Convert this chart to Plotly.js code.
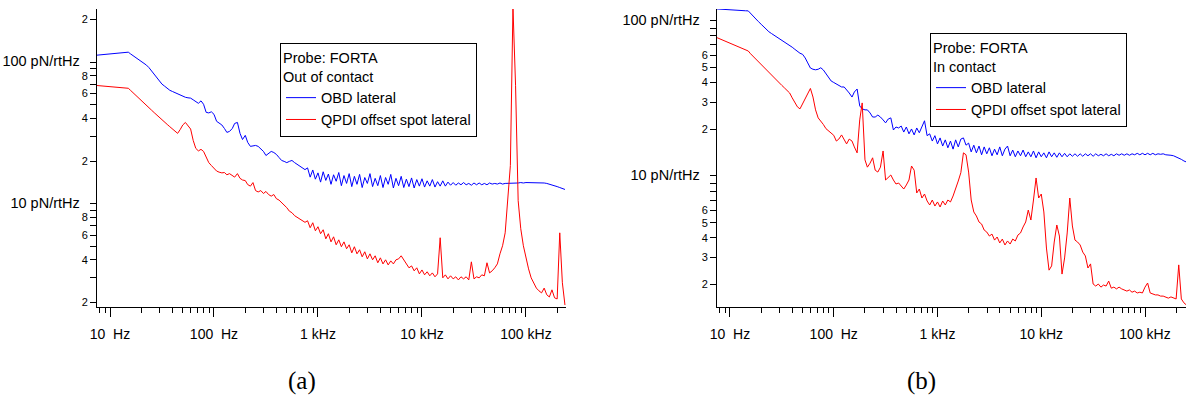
<!DOCTYPE html>
<html>
<head>
<meta charset="utf-8">
<script src="https://cdn.plot.ly/plotly-3.0.1.min.js"></script>
<style>html,body{margin:0;padding:0;background:#fff;}</style>
</head>
<body>
<div id="chart" style="width:1186px;height:402px;"></div>
<script>
// Frequency grid (Hz), shared by all curves
const freqHz = [7.5, 7.94, 8.41, 8.91, 9.44,
10, 10.6, 11.2, 11.9, 12.6, 13.3, 14.1, 15, 15.8, 16.8, 17.8, 18.8, 20, 21.1, 22.4, 23.7, 25.1, 26.6, 28.2, 29.9, 31.6, 33.5, 35.5, 37.6, 39.8, 42.2, 44.7, 47.3, 50.1, 53.1, 56.2, 59.6, 63.1, 66.8, 70.8, 75, 79.4, 84.1, 89.1, 94.4,
100, 106, 112, 119, 126, 133, 141, 150, 158, 168, 178, 188, 200, 211, 224, 237, 251, 266, 282, 299, 316, 335, 355, 376, 398, 422, 447, 473, 501, 531, 562, 596, 631, 668, 708, 750, 794, 841, 891, 944,
1000, 1059, 1122, 1189, 1259, 1334, 1413, 1496, 1585, 1679, 1778, 1884, 1995, 2113, 2239, 2371, 2512, 2661, 2818, 2985, 3162, 3350, 3548, 3758, 3981, 4217, 4467, 4732, 5012, 5309, 5623, 5957, 6310, 6683, 7079, 7499, 7943, 8414, 8913, 9441,
10000, 10593, 11220, 11885, 12589, 13335, 14125, 14962, 15849, 16788, 17783, 18836, 19953, 21135, 22387, 23714, 25119, 26607, 28184, 29854, 31623, 33497, 35481, 37584, 39811, 42170, 44668, 47315, 50119, 53088, 56234, 59566, 63096, 66834, 70795, 74989, 79433, 84140, 89125, 94406,
100000, 105925, 112202, 118850, 125893, 133352, 141254, 149624, 158489, 167880, 177828, 188365, 199526, 211349, 223872, 237137, 251189];

// (a) Out of contact, pN/rtHz
const obdOut = [112.1, 112.5, 113.0, 113.4, 113.9, 114.4, 114.8, 115.3, 115.8, 116.3, 116.8, 117.2, 117.7,
114.3, 110.8, 107.6, 104.3, 101.3, 98.4, 95.4, 91.5, 86.5, 81.7, 77.1, 72.9,
70.0, 67.7, 65.4, 63.3, 62.1, 60.9, 59.7, 58.5, 57.4, 56.5, 56.0, 55.7, 54.2, 52.5, 51.2, 53.3, 50.4, 44.2, 43.8, 44.6,
42.8, 38.2, 36.9, 36.0, 34.0, 31.9, 32.4, 34.0, 36.9, 37.5, 31.4, 28.4, 30.4, 27.1, 25.4, 25.6, 25.8, 25.4, 24.2, 23.4,
21.9, 22.6, 23.4, 23.0, 22.3, 21.2, 20.2, 19.9, 19.5, 19.9, 20.2, 19.5, 19.0, 18.6, 18.0, 17.4,
17.9, 15.4, 17.3, 14.9, 16.5, 14.2, 16.8, 14.6, 16.2, 13.7, 16.0, 14.4, 16.6, 13.4, 15.8, 13.9, 16.3, 13.2, 15.6, 13.7,
16.1, 13.0, 15.3, 13.9, 16.3, 13.2, 15.1, 13.4, 15.8, 13.0, 15.3, 13.7, 16.1, 12.9, 15.1, 13.4, 15.6, 13.0, 14.9, 13.2,
15.2, 12.9, 14.8, 13.3, 15.0, 13.1, 14.5, 13.3, 14.8, 13.1, 14.3, 13.3, 14.5, 13.3, 14.2, 13.5, 14.1, 13.5, 14.0, 13.6,
14.1, 13.6, 13.9, 13.5, 14.0, 13.6, 14.0, 13.6, 13.9, 13.6, 14.0, 13.75, 13.9, 13.75, 14.0, 13.75, 13.9, 13.9, 14.0, 13.9,
14.0, 14.0, 14.1, 14.0, 14.1, 14.1, 14.1, 14.1, 14.0, 14.1, 14.1, 14.0, 13.9, 13.75, 13.6, 13.4, 13.2, 13.0, 12.8, 12.6];

const qpdiOut = [68.4, 68.2, 67.9, 67.7, 67.4, 67.1, 66.9, 66.6, 66.4, 66.1, 65.9, 65.6, 65.4,
63.1, 60.6, 58.2, 56.0, 53.8, 51.6, 49.6, 47.6, 45.8, 44.0, 42.2, 40.6,
39.1, 37.7, 36.3, 35.0, 33.8, 32.5, 31.4, 33.4, 36.0, 37.5, 35.4, 33.7, 28.0, 24.6, 23.6, 24.2, 23.4, 21.2, 19.5, 18.6,
17.7, 17.0, 16.7, 16.5, 16.6, 16.0, 16.3, 15.8, 15.4, 16.3, 15.1, 14.7, 14.56, 13.64, 13.3, 14.09, 12.37, 12.1, 12.37, 11.8,
12.2, 11.6, 11.3, 11.6, 10.85, 10.6, 10.2, 9.84, 9.37, 8.85, 8.63, 8.22, 8.0, 7.82, 7.57, 7.38,
7.57, 6.76, 7.33, 6.43, 6.87, 6.13, 6.54, 5.64, 6.13, 5.37, 5.83, 5.12, 5.55, 4.96, 5.37, 4.80, 5.12, 4.49, 4.96, 4.42,
4.72, 4.21, 4.57, 4.07, 4.42, 4.01, 4.28, 3.82, 4.14, 3.75, 4.01, 3.69, 3.94, 3.75, 4.01, 4.07, 4.28, 4.01, 3.82, 3.52,
3.63, 3.35, 3.52, 3.19, 3.40, 3.14, 3.30, 3.09, 3.24, 3.04, 3.19, 5.74, 2.99, 3.14, 2.94, 3.09, 2.94, 3.04, 2.89, 3.04,
2.94, 3.04, 2.89, 3.88, 2.94, 3.04, 2.99, 3.14, 3.09, 3.82, 3.24, 3.35, 3.52, 3.75, 4.42, 5.04, 6.22, 10.5, 18.6, 245,
68.7, 10.5, 6.65, 5.04, 4.14, 3.46, 2.99, 2.71, 2.53, 2.42, 2.34, 2.53, 2.27, 2.19, 2.46, 2.16, 2.12, 6.22, 2.76, 1.92];

// (b) In contact, pN/rtHz
const obdIn = [119.5, 119.1, 119.0, 118.6, 118.2, 118.1, 117.8, 117.4, 117.2, 116.9, 116.5, 116.3, 116.1,
111.6, 107.2, 103.0, 99.0, 95.1, 91.5, 87.9, 85.2, 83.0, 81.0, 78.9, 77.0,
75.1, 73.2, 71.4, 69.7, 67.7, 65.6, 63.6, 61.9, 60.9, 57.7, 53.6, 49.7, 48.8, 48.4, 48.8, 49.9, 48.3, 45.5, 42.9, 41.0,
40.1, 39.2, 38.1, 37.5, 37.5, 36.1, 34.3, 32.3, 34.8, 36.4, 28.3, 27.1, 26.7, 26.7, 25.5, 24.0, 24.0, 24.7, 24.0, 23.0,
22.0, 23.3, 23.7, 19.8, 20.7, 20.4, 21.0, 19.2, 20.7, 18.7, 20.1, 18.4, 20.4, 19.0, 20.7, 22.7,
18.2, 18.7, 16.8, 18.2, 16.1, 17.6, 15.6, 17.1, 15.2, 16.8, 14.9, 17.1, 15.4, 17.3, 17.6, 15.8, 16.3, 14.3, 15.8, 14.1,
15.6, 13.7, 15.4, 13.9, 15.2, 13.5, 14.9, 13.7, 15.4, 13.5, 14.9, 15.6, 13.5, 14.7, 13.3, 14.5, 13.5, 14.7, 13.3, 14.3,
13.3, 14.5, 13.1, 14.3, 13.3, 14.1, 13.1, 14.3, 13.3, 14.1, 13.2, 14.1, 13.3, 14.0, 13.3, 13.9, 13.4, 13.9, 13.4, 13.9,
13.4, 13.9, 13.5, 13.9, 13.4, 13.9, 13.5, 13.8, 13.5, 13.9, 13.5, 13.8, 13.5, 13.9, 13.6, 13.9, 13.6, 13.9, 13.6, 13.9,
13.7, 14.0, 13.7, 14.0, 13.7, 14.0, 13.7, 14.0, 13.7, 13.9, 13.8, 13.9, 13.7, 13.7, 13.6, 13.5, 13.3, 13.1, 12.8, 12.5, 12.3];

const qpdiIn = [78.0, 76.8, 75.5, 74.3, 73.1, 71.9, 70.6, 69.5, 68.4, 67.3, 66.2, 65.1, 64.0,
61.4, 58.9, 56.5, 54.2, 52.0, 49.9, 47.9, 46.0, 44.4, 42.8, 41.3, 39.8,
38.4, 37.0, 35.6, 34.3, 31.9, 30.0, 27.9, 27.1, 29.4, 31.6, 34.0, 36.7, 32.3, 26.7, 23.7, 22.6, 21.5, 20.2, 19.5, 19.1,
18.3, 16.8, 17.3, 18.4, 17.1, 16.1, 17.3, 16.8, 15.4, 14.1, 23.0, 29.6, 12.7, 11.4, 12.1, 13.1, 10.9, 10.6, 11.4, 14.5,
9.42, 9.85, 10.15, 9.42, 8.88, 9.01, 8.62, 8.24, 8.75, 9.42, 11.6, 10.9, 7.77, 8.24, 7.21, 7.65,
6.90, 6.50, 7.00, 6.40, 6.80, 6.31, 6.90, 6.50, 7.00, 6.80, 7.43, 8.24, 9.28, 10.5, 14.1, 13.7, 10.6, 7.00, 5.86, 5.52,
5.05, 4.90, 4.48, 4.35, 4.10, 4.22, 3.86, 4.04, 3.70, 3.92, 3.59, 3.81, 3.64, 3.92, 3.81, 4.16, 4.29, 4.69, 5.05, 6.03,
5.20, 7.00, 9.71, 7.21, 7.65, 5.86, 3.43, 2.47, 2.63, 3.75, 4.83, 4.10, 2.33, 2.96, 4.29, 7.21, 4.76, 3.86, 3.75, 3.59,
3.23, 3.05, 2.55, 2.71, 2.01, 1.95, 2.01, 1.92, 1.98, 1.95, 2.10, 1.89, 1.92, 1.87, 1.92, 1.87, 1.84, 1.81, 1.84, 1.78,
1.81, 1.76, 1.78, 1.76, 1.92, 2.04, 1.76, 1.73, 1.71, 1.71, 1.68, 1.68, 1.66, 1.63, 1.66, 1.63, 1.61, 2.67, 1.61, 1.52, 1.47];

// Tick labels
const xTickVals = [10, 100, 1000, 10000, 100000];
const xTickText = ['10\u00a0 Hz', '100\u00a0 Hz', '1 kHz', '10 kHz', '100 kHz'];
const xMinorVals = [8, 9, 20, 30, 40, 50, 60, 70, 80, 90, 200, 300, 400, 500, 600, 700, 800, 900,
  2000, 3000, 4000, 5000, 6000, 7000, 8000, 9000, 20000, 30000, 40000, 50000, 60000, 70000, 80000, 90000, 200000];

const yTickValsA = [2, 3, 4, 5, 6, 7, 8, 9, 10, 20, 30, 40, 50, 60, 70, 80, 90, 100, 200];
const yTickTextA = ['2', '', '4', '', '6', '', '8', '', '10 pN/rtHz', '2', '', '4', '', '6', '', '8', '', '100 pN/rtHz', '2'];
const yTickValsB = [2, 3, 4, 5, 6, 7, 8, 9, 10, 20, 30, 40, 50, 60, 70, 80, 90, 100];
const yTickTextB = ['2', '3', '4', '5', '6', '', '', '', '10 pN/rtHz', '2', '3', '4', '5', '6', '', '', '', '100 pN/rtHz'];

const legendTitleA = 'Probe: FORTA<br>Out of contact';
const legendTitleB = 'Probe: FORTA<br>In contact';
const seriesNames = ['OBD lateral', 'QPDI offset spot lateral'];

function styleTicks(arr) {
  return arr.map(t => /pN/.test(t) ? '<span style="font-size:14.5px">' + t + '\u00a0\u00a0</span>' : t);
}

const nA = obdOut.length;
const fA = freqHz.slice(0, nA);
const traces = [
  {x: fA, y: obdOut, name: seriesNames[0], type: 'scatter', mode: 'lines', line: {color: '#0000ff', width: 1}, xaxis: 'x', yaxis: 'y', legend: 'legend'},
  {x: fA, y: qpdiOut, name: seriesNames[1], type: 'scatter', mode: 'lines', line: {color: '#ff0000', width: 1}, xaxis: 'x', yaxis: 'y', legend: 'legend'},
  {x: freqHz, y: obdIn, name: seriesNames[0], type: 'scatter', mode: 'lines', line: {color: '#0000ff', width: 1}, xaxis: 'x2', yaxis: 'y2', legend: 'legend2'},
  {x: freqHz, y: qpdiIn, name: seriesNames[1], type: 'scatter', mode: 'lines', line: {color: '#ff0000', width: 1}, xaxis: 'x2', yaxis: 'y2', legend: 'legend2'}
];

const W = 1186, H = 402;
function xAxis(dom, rng, anchor) {
  return {type: 'log', domain: dom, range: rng, anchor: anchor, showline: true, linecolor: 'black', linewidth: 1,
    ticks: 'outside', ticklen: 9, tickwidth: 1, tickcolor: 'black', tickmode: 'array', tickvals: xTickVals, ticktext: xTickText,
    tickfont: {size: 14, color: 'black'}, ticklabelstandoff: 5, showgrid: false, zeroline: false, fixedrange: true,
    minor: {tickmode: 'array', tickvals: xMinorVals, ticks: 'outside', ticklen: 5, tickwidth: 1, tickcolor: 'black', showgrid: false}};
}
function yAxis(dom, rng, anchor, vals, text) {
  return {type: 'log', domain: dom, range: rng, anchor: anchor, showline: true, linecolor: 'black', linewidth: 1,
    ticks: 'outside', ticklen: 6, tickwidth: 1, tickcolor: 'black', tickmode: 'array', tickvals: vals, ticktext: styleTicks(text),
    tickfont: {size: 11, color: 'black'}, showgrid: false, zeroline: false, fixedrange: true};
}
const yDom = [1 - 307 / H, 1 - 9 / H];
const legendBase = {xanchor: 'left', yanchor: 'top', bordercolor: 'black', borderwidth: 1, bgcolor: 'white',
  font: {size: 14.5, color: 'black'}, tracegroupgap: 0, itemwidth: 30};

const layout = {
  width: W, height: H, margin: {l: 0, r: 0, t: 0, b: 0},
  paper_bgcolor: 'white', plot_bgcolor: 'white',
  font: {family: 'Arial, "Liberation Sans", sans-serif', color: 'black'},
  showlegend: true,
  xaxis: xAxis([97 / W, 566 / W], [0.875, 5.385], 'y'),
  yaxis: yAxis(yDom, [0.2695, 2.376], 'x', yTickValsA, yTickTextA),
  xaxis2: xAxis([717 / W, 1], [0.875, 5.395], 'y2'),
  yaxis2: yAxis(yDom, [0.155, 2.077], 'x2', yTickValsB, yTickTextB),
  legend: Object.assign({}, legendBase, {x: 280 / W, y: 1 - 43 / H, title: {text: legendTitleA, font: {size: 14.5}}}),
  legend2: Object.assign({}, legendBase, {x: 930 / W, y: 1 - 33 / H, title: {text: legendTitleB, font: {size: 14.5}}}),
  annotations: [
    {text: '(a)', xref: 'paper', yref: 'paper', x: 302 / W, y: 1 - 381 / H, xanchor: 'center', yanchor: 'middle', showarrow: false,
      font: {family: '"Times New Roman", "Liberation Serif", serif', size: 25, color: 'black'}},
    {text: '(b)', xref: 'paper', yref: 'paper', x: 921 / W, y: 1 - 381 / H, xanchor: 'center', yanchor: 'middle', showarrow: false,
      font: {family: '"Times New Roman", "Liberation Serif", serif', size: 25, color: 'black'}}
  ]
};

Plotly.newPlot('chart', traces, layout, {displayModeBar: false, staticPlot: true});
</script>
</body>
</html>
